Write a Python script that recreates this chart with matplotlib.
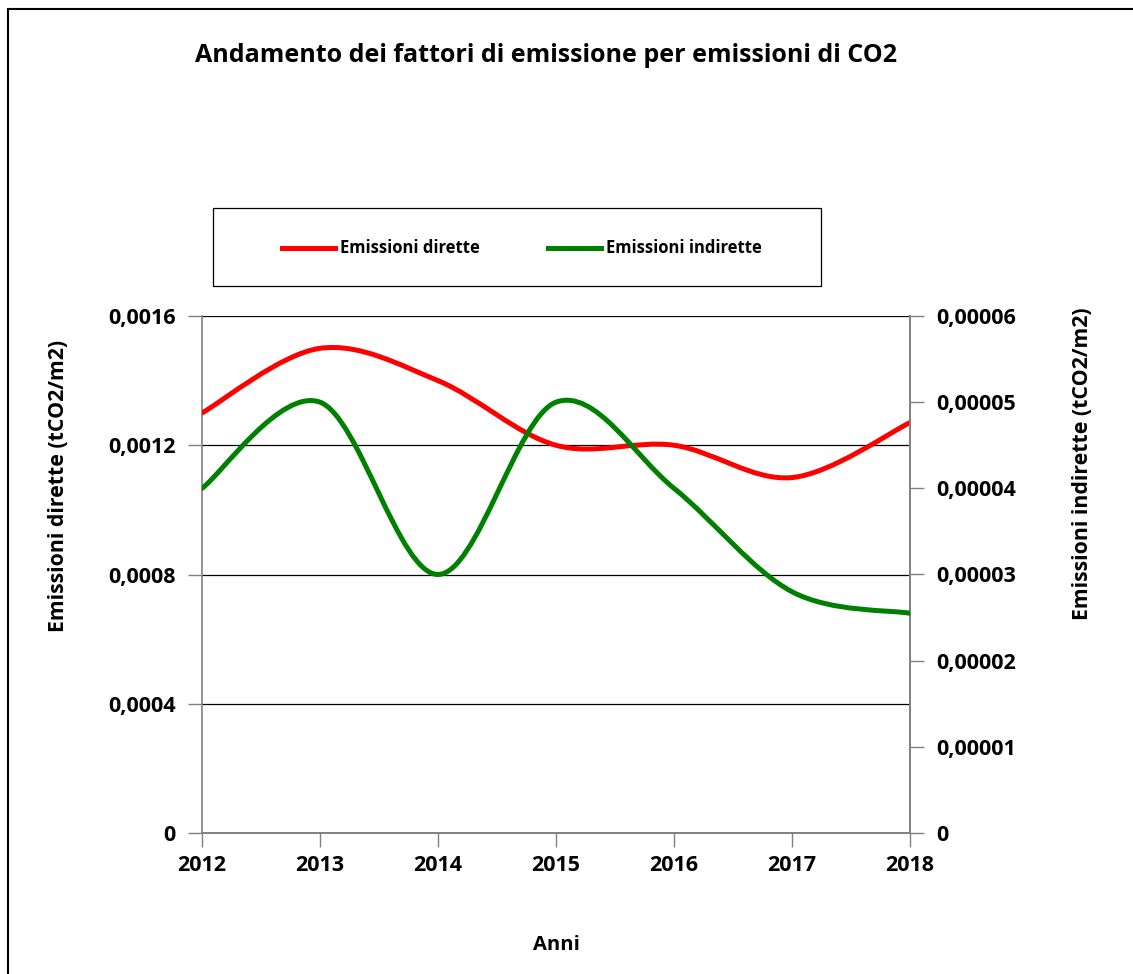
import matplotlib.pyplot as plt
from matplotlib.path import Path
from matplotlib.patches import PathPatch, Rectangle
from matplotlib.lines import Line2D

plt.rcParams['font.family'] = ['Open Sans', 'DejaVu Sans']
plt.rcParams['font.weight'] = 'bold'

# data
anni = [2012, 2013, 2014, 2015, 2016, 2017, 2018]
dirette = [0.0013, 0.0015, 0.0014, 0.0012, 0.0012, 0.0011, 0.00127]
indirette = [0.00004, 0.00005, 0.00003, 0.00005, 0.00004, 0.000028, 0.0000255]

left_ticks = [0, 0.0004, 0.0008, 0.0012, 0.0016]
left_labels = ["0", "0,0004", "0,0008", "0,0012", "0,0016"]
right_ticks = [0, 0.00001, 0.00002, 0.00003, 0.00004, 0.00005, 0.00006]
right_labels = ["0", "0,00001", "0,00002", "0,00003", "0,00004", "0,00005", "0,00006"]


def smooth_path(xs, ys):
    # excel style smoothed line: cubic bezier segments through the points
    verts = [(xs[0], ys[0])]
    codes = [Path.MOVETO]
    n = len(xs)
    for i in range(n - 1):
        x0, y0 = (xs[i - 1], ys[i - 1]) if i > 0 else (xs[i], ys[i])
        x1, y1 = xs[i], ys[i]
        x2, y2 = xs[i + 1], ys[i + 1]
        x3, y3 = (xs[i + 2], ys[i + 2]) if i + 2 < n else (x2, y2)
        c1 = (x1 + (x2 - x0) / 6, y1 + (y2 - y0) / 6)
        c2 = (x2 - (x3 - x1) / 6, y2 - (y3 - y1) / 6)
        verts += [c1, c2, (x2, y2)]
        codes += [Path.CURVE4] * 3
    return Path(verts, codes)


fig = plt.figure(figsize=(11.33, 9.74), dpi=100)
ax = fig.add_axes([202 / 1133, 1 - 833 / 974, 708 / 1133, 517 / 974])
ax2 = ax.twinx()

ax.add_patch(PathPatch(smooth_path(anni, dirette), fill=False, edgecolor="#ff0000",
                       linewidth=3.6, capstyle="round", zorder=3))
ax2.add_patch(PathPatch(smooth_path(anni, indirette), fill=False, edgecolor="#008000",
                        linewidth=3.6, capstyle="round", zorder=3))

ax.set_xlim(2012, 2018)
ax.set_ylim(0, 0.0016)
ax2.set_ylim(0, 0.00006)
ax.set_xticks(anni)
ax.set_xticklabels([str(a) for a in anni])
ax.set_yticks(left_ticks)
ax.set_yticklabels(left_labels)
ax2.set_yticks(right_ticks)
ax2.set_yticklabels(right_labels)

ax.grid(axis="y", color="black", linewidth=0.9)
ax.set_axisbelow(True)
for a in (ax, ax2):
    a.spines["top"].set_visible(False)
    for s in ("left", "right", "bottom"):
        a.spines[s].set_color("#808080")
        a.spines[s].set_linewidth(1.2)
    a.tick_params(length=10, width=1, color="#808080", labelsize=15.5, pad=9)
ax.tick_params(axis="x", pad=6)
ax2.spines["left"].set_visible(False)

ax.set_ylabel("Emissioni dirette (tCO2/m2)", fontsize=15.3, fontweight="bold")
ax.yaxis.set_label_coords((69 - 202) / 708, (833 - 486) / 517)
ax2.set_ylabel("Emissioni indirette (tCO2/m2)", fontsize=15.3, fontweight="bold")
ax2.yaxis.set_label_coords((1072 - 202) / 708, (833 - 464) / 517)
ax.set_xlabel("Anni", fontsize=14.5, fontweight="bold", labelpad=42)

fig.text(546 / 1133, 1 - 55 / 974, "Andamento dei fattori di emissione per emissioni di CO2",
         ha="center", va="center", fontsize=18, fontweight="bold")

# legend box
fig.patches.append(Rectangle((213 / 1133, 1 - 286 / 974), 608 / 1133, 78 / 974,
                             transform=fig.transFigure, fill=False, edgecolor="black",
                             linewidth=0.9))
ly = 1 - 248 / 974
fig.lines.append(Line2D([282 / 1133, 335 / 1133], [ly, ly], color="#ff0000", linewidth=3.6,
                        transform=fig.transFigure))
fig.text(340 / 1133, ly, "Emissioni dirette", va="center", fontsize=12, fontweight="bold")
fig.lines.append(Line2D([548 / 1133, 601 / 1133], [ly, ly], color="#008000", linewidth=3.6,
                        transform=fig.transFigure))
fig.text(606 / 1133, ly, "Emissioni indirette", va="center", fontsize=12, fontweight="bold")

# outer chart border
fig.patches.append(Rectangle((8 / 1133, -0.05), 1.1, 1 - 9 / 974 + 0.05,
                             transform=fig.transFigure, fill=False, edgecolor="black",
                             linewidth=1.5))

fig.savefig("out.png", dpi=100)
